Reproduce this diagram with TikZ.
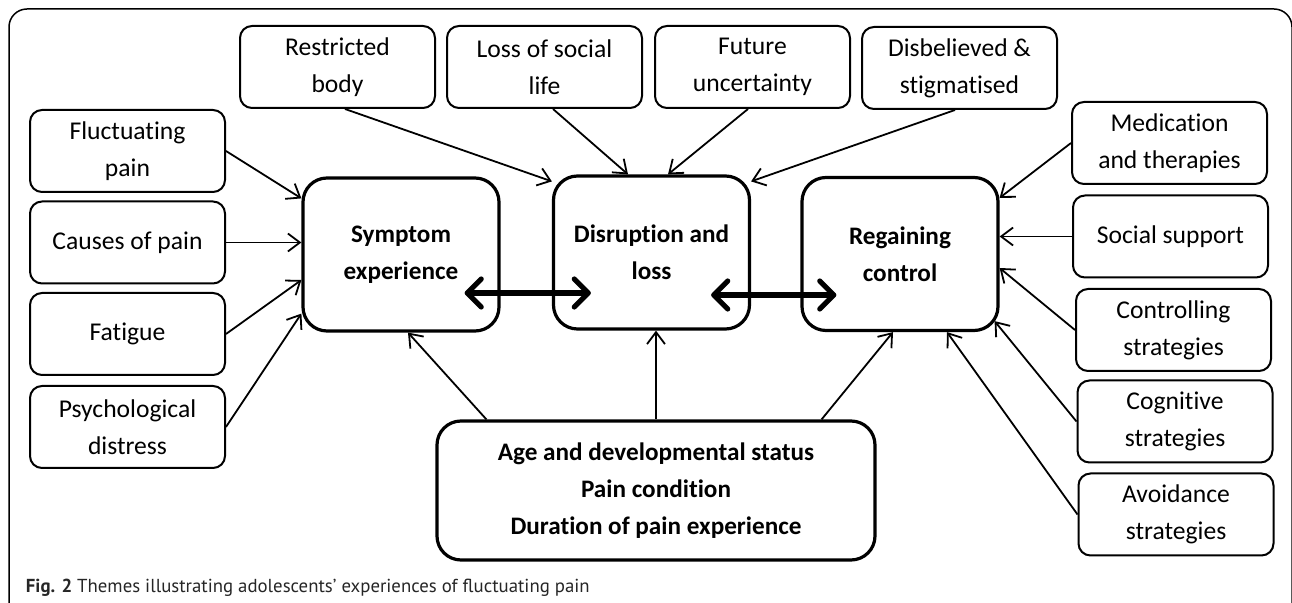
\documentclass[tikz,border=0pt]{standalone}
\usepackage{fontspec}
\setmainfont{Carlito}[Ligatures=NoCommon]
\newfontfamily\capfont{PT Sans}
\usetikzlibrary{arrows.meta}

\begin{document}
\begin{tikzpicture}[x=0.5pt, y=-0.5pt, ->, >={Straight Barb[length=6pt,width=9pt]}, line width=0.9pt,
    box/.style={draw, rounded corners=6pt, line width=1pt, minimum width=97.5pt, minimum height=41pt,
        align=center, inner sep=0pt, font=\fontsize{12.8}{18.5}\selectfont},
    theme/.style={draw, rounded corners=12pt, line width=1.6pt, minimum width=98pt, minimum height=76.5pt,
        align=center, inner sep=0pt, font=\bfseries\fontsize{12.6}{18.5}\selectfont},
    link/.style={line width=2.6pt, <->, >={Straight Barb[length=7pt,width=14pt,round]}}]
    \useasboundingbox (0,0) rectangle (1292,603);
    % Frame
 \draw[-, line width=0.75pt, rounded corners=9pt] (9,603) -- (9,9) -- (1292,9) -- (1292,603);

    % Themes
 \node[theme] (sym) at (401,254.5) {Symptom\\experience};
 \node[theme] (dis) at (651.5,252.5) {Disruption and\\loss};
 \node[theme] (reg) at (900,254) {Regaining\\control};
 \node[theme, minimum width=219pt, minimum height=69.5pt] (age) at (656,490.5)
    {Age and developmental status\\Pain condition\\Duration of pain experience};

    % Left column
 \node[box] (flu) at (127.5,151) {Fluctuating\\pain};
 \node[box] (cause) at (127.5,242.5) {Causes of pain};
 \node[box] (fat) at (127.5,334) {Fatigue};
 \node[box] (psy) at (127.5,427) {Psychological\\distress};

    % Top row
 \node[box] (rest) at (337.5,67) {Restricted\\body};
 \node[box] (loss) at (544.5,67) {Loss of social\\life};
 \node[box] (fut) at (752.5,67) {Future\\uncertainty};
 \node[box] (disb) at (959.5,68) {Disbelieved \&\\stigmatised};

    % Right column
 \node[box] (med) at (1169.5,143) {Medication\\and therapies};
 \node[box] (soc) at (1170.5,236.5) {Social support};
 \node[box] (ctl) at (1173.5,330) {Controlling\\strategies};
 \node[box] (cog) at (1175,421.5) {Cognitive\\strategies};
 \node[box] (avo) at (1176,514.5) {Avoidance\\strategies};

 \draw (flu.east) -- ([yshift=-11pt]sym.north west);
 \draw (cause.east) -- (cause.east -| sym.west);
 \draw (fat.east) -- ([yshift=-12.75pt]sym.west);
 \draw (psy.east) -- ([yshift=9.5pt]sym.south west);

 \draw ([xshift=3.75pt]rest.south) -- ([yshift=-3.5pt]dis.north west);
 \draw ([xshift=4.25pt]loss.south) -- ([xshift=-11.75pt]dis.north);
 \draw ([xshift=-2.25pt]fut.south) -- ([xshift=8.25pt]dis.north);
 \draw ([xshift=-2.25pt]disb.south) -- ([yshift=-3.5pt]dis.north east);

 \draw (med.west) -- ([yshift=-11pt]reg.north east);
 \draw (soc.west) -- (soc.west -| reg.east);
 \draw (ctl.west) -- ([yshift=-7pt]reg.east);
 \draw (cog.west) -- ([xshift=-2.5pt,yshift=5.5pt]reg.south east);
 \draw (avo.west) -- ([xshift=23.5pt]reg.south);

 \draw ([xshift=25.5pt]age.north west) -- ([xshift=3.5pt]sym.south);
 \draw (age.north) -- (age.north |- dis.south);
 \draw ([xshift=-27.5pt]age.north east) -- ([xshift=-3.5pt]reg.south);

 \draw[link] ([xshift=-18pt,yshift=-19.25pt]sym.east) -- ([xshift=19.5pt,yshift=-20.25pt]dis.west);
 \draw[link] ([xshift=-20pt,yshift=-21.25pt]dis.east) -- ([xshift=18pt,yshift=-20.5pt]reg.west);

 \node[anchor=base west, inner sep=0pt, text=black!85, font=\capfont\fontsize{9.4}{11}\selectfont] (cap) at (25,593)
    {\textbf{Fig. 2} Themes illustrating adolescents’ experiences of fluctuating pain};
\end{tikzpicture}
\end{document}
